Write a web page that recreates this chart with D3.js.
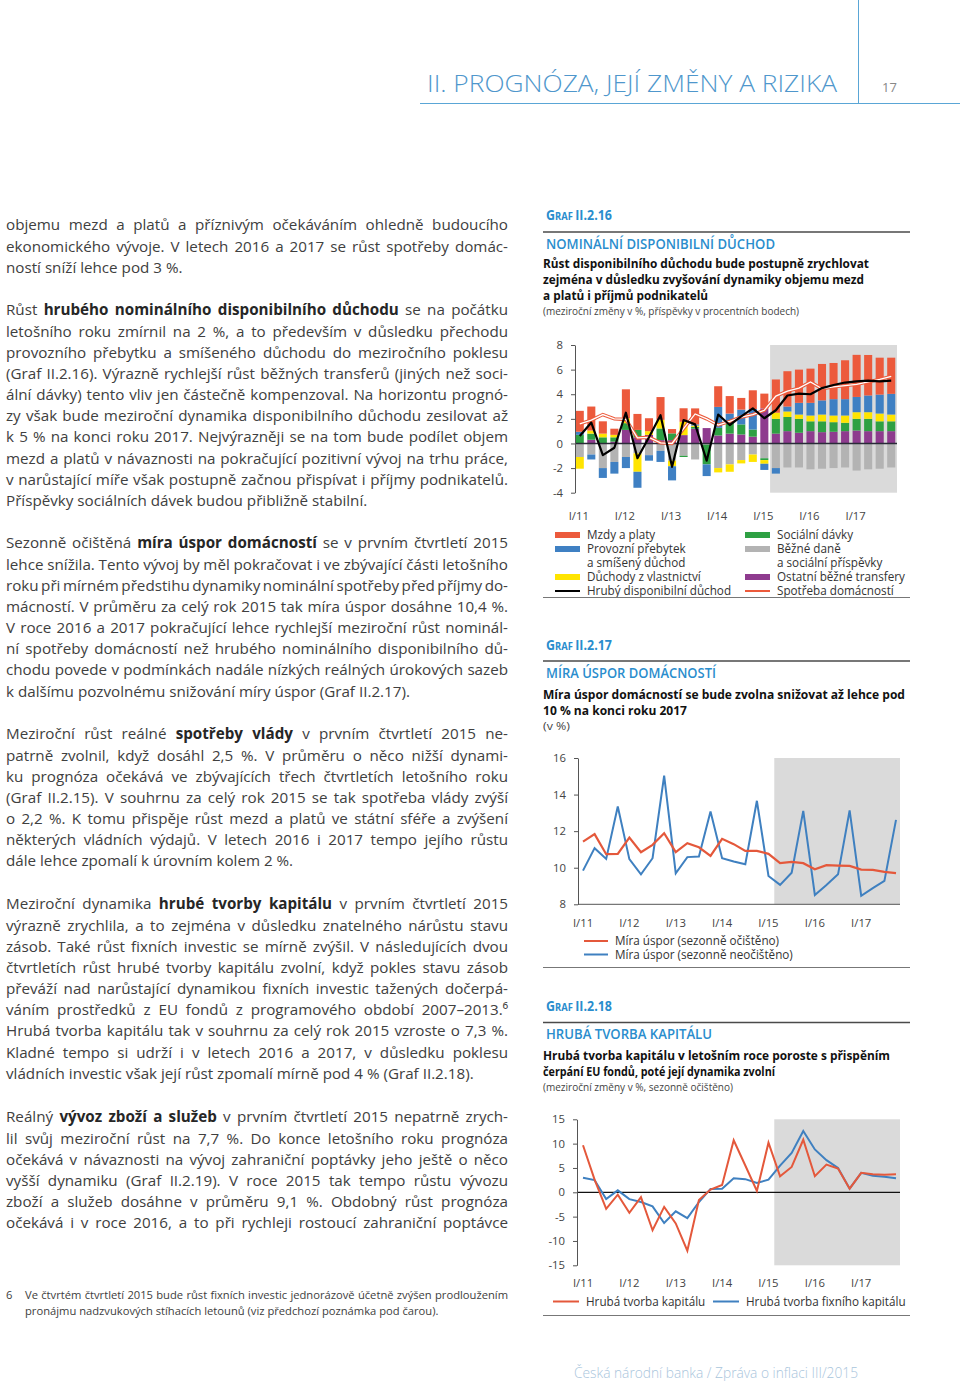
<!DOCTYPE html>
<html><head><meta charset="utf-8">
<script src="https://cdn.jsdelivr.net/npm/d3@7"></script>
<style>body{margin:0;background:#fff} svg{display:block}</style>
</head><body><svg id="page" width="960" height="1382"></svg>
<script>
// ---------- DATA ----------
const quarters = ["I/11","II/11","III/11","IV/11","I/12","II/12","III/12","IV/12","I/13","II/13","III/13","IV/13","I/14","II/14","III/14","IV/14","I/15","II/15","III/15","IV/15","I/16","II/16","III/16","IV/16","I/17","II/17","III/17","IV/17"];
const yearTicks = ["I/11","I/12","I/13","I/14","I/15","I/16","I/17"];
// Graf II.2.16 contributions (p.b.)
const wages    = [1.7,1.95,1.0,0.5,2.35,1.3,1.05,1.85,0.35,1.1,1.3,0,1.68,1.42,0.95,1.52,1.2,2.7,2.87,2.7,2.78,2.96,2.94,3.16,3.42,3.29,3.0,2.94];
const surplus  = [0.25,-0.4,-0.8,-0.95,-0.9,-1.3,-0.45,-0.9,-1.15,0,0.1,-0.95,1.7,0.75,1.2,1.67,-0.5,-0.45,0.4,0.95,1.03,1.15,1.33,1.33,1.24,1.36,1.54,1.68];
const property = [-0.95,0.25,0.3,0.2,0.4,-1.5,0.3,0.7,-0.45,1.08,0.1,0,-0.35,-0.6,-0.27,-0.6,-0.3,0.5,0.45,0.35,0.47,0.55,0.54,0.59,0.54,0.54,0.63,0.55];
const social   = [0.7,0.5,0.5,0.35,0.55,0.6,0,0.95,0.55,-0.1,0.15,-1.6,0.62,0.88,0.82,0.58,-0.15,1.2,1.15,1.13,0.8,0.88,0.78,0.68,0.95,1.0,0.8,0.8];
const taxes    = [-1.1,-0.9,-2.0,-1.5,-1.1,-0.8,-0.95,-0.6,-1.4,-1.0,-1.3,-0.1,-2.0,-1.7,-1.35,-0.9,-1.2,-2.0,-1.95,-1.95,-2.1,-2.05,-2.0,-1.95,-2.2,-2.1,-2.05,-1.95];
const other    = [0,0.3,0,0.15,1.1,0.5,0.7,0.27,0.27,0.68,1.2,1.25,0.65,0.8,0.73,0.55,2.85,0.8,1.0,0.87,1.0,0.92,0.95,1.0,1.05,1.0,1.0,1.0];
const grossDisposable = [0.6,1.7,-0.95,-0.35,2.5,-1.2,0.5,2.3,-1.9,1.9,1.55,-1.4,2.35,1.5,2.2,2.85,2.05,2.7,3.9,4.05,4.0,4.5,4.75,4.95,5.05,5.1,5.05,5.1];
const consumption = [1.6,1.9,2.35,2.0,1.95,0.45,0.5,0.05,0.0,1.2,2.4,2.0,1.5,1.8,2.15,2.35,2.7,3.85,4.25,4.5,5.0,4.45,4.6,4.7,4.8,5.0,5.2,5.45];
// Graf II.2.17 saving rate (%)
const savingSA  = [11.43,11.84,10.74,10.76,11.65,10.85,11.25,11.89,10.85,11.34,11.12,10.65,11.58,11.29,10.92,10.92,10.76,10.25,10.32,10.25,9.92,10.14,10.12,10.1,9.9,9.88,9.77,9.7];
const savingNSA = [9.84,11.07,10.48,13.35,10.47,9.64,10.52,15.03,9.7,10.58,10.61,13.08,10.52,10.34,10.19,13.66,9.55,9.06,9.73,13.11,8.51,9.06,9.64,13.13,8.46,8.88,9.28,12.62];
// Graf II.2.18 capital formation (%)
const gcf  = [9.66,2.6,-3.4,-0.5,-4.2,-1.0,-7.8,-3.0,-6.4,-12.0,-1.6,0.55,1.5,10.7,5.5,0.27,10.2,3.3,5.2,10.8,3.3,5.7,4.9,0.75,4.0,3.7,3.6,3.7];
const gfcf = [3.0,2.5,-1.4,0.4,-1.4,-2.0,-2.9,-6.3,-3.9,-5.3,-2.0,0.7,0.75,2.9,2.7,1.9,2.6,5.5,8.1,12.6,8.8,6.6,5.0,0.75,4.0,3.4,3.2,2.9];
const ticks16 = [-4,-2,0,2,4,6,8];
const ticks17 = [8,10,12,14,16];
const ticks18 = [-15,-10,-5,0,5,10,15];

// ---------- PAGE ----------
const svg = d3.select("#page");
const F = "'Open Sans','Noto Sans',sans-serif";
const BLUE_H = "#2a8dcd";
svg.append("rect").attr("width",960).attr("height",1382).attr("fill","#fff");

// header
svg.append("line").attr("x1",858.5).attr("x2",858.5).attr("y1",0).attr("y2",104).attr("stroke","#5aa6d6").attr("stroke-width",1);
svg.append("line").attr("x1",420).attr("x2",960).attr("y1",103.5).attr("y2",103.5).attr("stroke","#5aa6d6").attr("stroke-width",1);
svg.append("text").attr("x",427).attr("y",92).attr("font-family",F).attr("font-size",23).attr("font-weight",300)
  .attr("fill","#4f97cc").attr("textLength",410).attr("lengthAdjust","spacingAndGlyphs").text("II.  PROGNÓZA, JEJÍ ZMĚNY A RIZIKA");
svg.append("text").attr("x",882).attr("y",92).attr("font-family",F).attr("font-size",13).attr("fill","#888").text("17");

// justified text helper
function textLine(g, str, x, yc, o) {
  const t = g.append("text").attr("x",x).attr("y",yc + o.size*0.36).attr("font-family",F)
    .attr("font-size",o.size).attr("fill",o.color);
  str.split("**").forEach((seg,i)=>{ if(!seg) return; const ts=t.append("tspan").text(seg);
    if(i%2) ts.attr("font-weight",700).attr("fill",o.bold||o.color); });
  if (o.justify) {
    const nat = t.node().getComputedTextLength();
    const n = (str.replace(/\*\*/g,"").trim().match(/ /g)||[]).length;
    if (n>0) t.style("word-spacing", ((o.width-nat)/n)+"px");
  }
  return t;
}
function paragraph(lines, yc0, lastJust) {
  const lh = 21.17;
  lines.forEach((s,i)=>{
    const just = i < lines.length-1 || lastJust;
    textLine(svg, s, 6, yc0 + i*lh, {size:15.2, color:"#404040", bold:"#262626", justify:just, width:502});
  });
}
paragraph([
 "objemu mezd a platů a příznivým očekáváním ohledně budoucího",
 "ekonomického vývoje. V letech 2016 a 2017 se růst spotřeby domác-",
 "ností sníží lehce pod 3 %."], 225, false);
paragraph([
 "Růst **hrubého nominálního disponibilního důchodu** se na počátku",
 "letošního roku zmírnil na 2 %, a to především v důsledku přechodu",
 "provozního přebytku a smíšeného důchodu do meziročního poklesu",
 "(Graf II.2.16). Výrazně rychlejší růst běžných transferů (jiných než soci-",
 "ální dávky) tento vliv jen částečně kompenzoval. Na horizontu prognó-",
 "zy však bude meziroční dynamika disponibilního důchodu zesilovat až",
 "k 5 % na konci roku 2017. Nejvýrazněji se na tom bude podílet objem",
 "mezd a platů v návaznosti na pokračující pozitivní vývoj na trhu práce,",
 "v narůstající míře však postupně začnou přispívat i příjmy podnikatelů.",
 "Příspěvky sociálních dávek budou přibližně stabilní."], 310, false);
paragraph([
 "Sezonně očištěná **míra úspor domácností** se v prvním čtvrtletí 2015",
 "lehce snížila. Tento vývoj by měl pokračovat i ve zbývající části letošního",
 "roku při mírném předstihu dynamiky nominální spotřeby před příjmy do-",
 "mácností. V průměru za celý rok 2015 tak míra úspor dosáhne 10,4 %.",
 "V roce 2016 a 2017 pokračující lehce rychlejší meziroční růst nominál-",
 "ní spotřeby domácností než hrubého nominálního disponibilního dů-",
 "chodu povede v podmínkách nadále nízkých reálných úrokových sazeb",
 "k dalšímu pozvolnému snižování míry úspor (Graf II.2.17)."], 543, false);
paragraph([
 "Meziroční růst reálné **spotřeby vlády** v prvním čtvrtletí 2015 ne-",
 "patrně zvolnil, když dosáhl 2,5 %. V průměru o něco nižší dynami-",
 "ku prognóza očekává ve zbývajících třech čtvrtletích letošního roku",
 "(Graf II.2.15). V souhrnu za celý rok 2015 se tak spotřeba vlády zvýší",
 "o 2,2 %. K tomu přispěje růst mezd a platů ve státní sféře a zvýšení",
 "některých vládních výdajů. V letech 2016 i 2017 tempo jejího růstu",
 "dále lehce zpomalí k úrovním kolem 2 %."], 734, false);
paragraph([
 "Meziroční dynamika **hrubé tvorby kapitálu** v prvním čtvrtletí 2015",
 "výrazně zrychlila, a to zejména v důsledku znatelného nárůstu stavu",
 "zásob. Také růst fixních investic se mírně zvýšil. V následujících dvou",
 "čtvrtletích růst hrubé tvorby kapitálu zvolní, když pokles stavu zásob",
 "převáží nad narůstající dynamikou fixních investic tažených dočerpá-",
 "váním prostředků z EU fondů z programového období 2007–2013.⁶",
 "Hrubá tvorba kapitálu tak v souhrnu za celý rok 2015 vzroste o 7,3 %.",
 "Kladné tempo si udrží i v letech 2016 a 2017, v důsledku poklesu",
 "vládních investic však její růst zpomalí mírně pod 4 % (Graf II.2.18)."], 904, false);
paragraph([
 "Reálný **vývoz zboží a služeb** v prvním čtvrtletí 2015 nepatrně zrych-",
 "lil svůj meziroční růst na 7,7 %. Do konce letošního roku prognóza",
 "očekává v návaznosti na vývoj zahraniční poptávky jeho ještě o něco",
 "vyšší dynamiku (Graf II.2.19). V roce 2015 tak tempo růstu vývozu",
 "zboží a služeb dosáhne v průměru 9,1 %. Obdobný růst prognóza",
 "očekává i v roce 2016, a to při rychleji rostoucí zahraniční poptávce"], 1117, true);

// footnote
textLine(svg, "6", 6, 1295, {size:11.2, color:"#404040"});
textLine(svg, "Ve čtvrtém čtvrtletí 2015 bude růst fixních investic jednorázově účetně zvýšen prodloužením", 25, 1295, {size:11.2, color:"#404040", justify:true, width:483});
textLine(svg, "pronájmu nadzvukových stíhacích letounů (viz předchozí poznámka pod čarou).", 25, 1311, {size:11.2, color:"#404040"});
// footer
svg.append("text").attr("x",574).attr("y",1378).attr("font-family",F).attr("font-size",14).attr("font-weight",300)
  .attr("fill","#a9c5dc").attr("textLength",284).attr("lengthAdjust","spacingAndGlyphs").text("Česká národní banka / Zpráva o inflaci III/2015");

// ---------- chart headings ----------
function fitText(x, yc, str, size, weight, fill, endX) {
  return svg.append("text").attr("x",x).attr("y",yc + size*0.36).attr("font-family",F).attr("font-size",size)
    .attr("font-weight",weight).attr("fill",fill).attr("textLength",endX-x).attr("lengthAdjust","spacingAndGlyphs").text(str);
}
function heading(o) {
  const t = svg.append("text").attr("x",546).attr("y",o.graf+5).attr("font-family",F).attr("font-weight",700)
    .attr("fill",BLUE_H).attr("textLength",66).attr("lengthAdjust","spacingAndGlyphs");
  t.append("tspan").attr("font-size",14).text("G");
  t.append("tspan").attr("font-size",10.5).text("RAF ");
  t.append("tspan").attr("font-size",14).text(o.num);
  svg.append("line").attr("x1",543).attr("x2",910).attr("y1",o.rule).attr("y2",o.rule).attr("stroke","#4a4a4a").attr("stroke-width",1.3);
  fitText(546, o.titleY, o.title, 15, 600, BLUE_H, o.titleEnd);
  o.subs.forEach((s,i)=> fitText(543, o.subY[i], s, 12.5, 700, "#111", o.subEnd[i]));
  fitText(543, o.noteY, o.note, 10.3, 400, "#444", o.noteEnd);
}
heading({graf:215, num:"II.2.16", rule:232, title:"NOMINÁLNÍ DISPONIBILNÍ DŮCHOD", titleY:243.5, titleEnd:775,
  subs:["Růst disponibilního důchodu bude postupně zrychlovat","zejména v důsledku zvyšování dynamiky objemu mezd","a platů i příjmů podnikatelů"],
  subY:[263.5,279.5,295.5], subEnd:[869,864,708], note:"(meziroční změny v %, příspěvky v procentních bodech)", noteY:311, noteEnd:799});
heading({graf:644.5, num:"II.2.17", rule:661, title:"MÍRA ÚSPOR DOMÁCNOSTÍ", titleY:673, titleEnd:716,
  subs:["Míra úspor domácností se bude zvolna snižovat až lehce pod","10 % na konci roku 2017"],
  subY:[694,710.5], subEnd:[905,687], note:"(v %)", noteY:726, noteEnd:570});
heading({graf:1006, num:"II.2.18", rule:1022.5, title:"HRUBÁ TVORBA KAPITÁLU", titleY:1034, titleEnd:712,
  subs:["Hrubá tvorba kapitálu v letošním roce poroste s přispěním","čerpání EU fondů, poté její dynamika zvolní"],
  subY:[1055,1071], subEnd:[890,775], note:"(meziroční změny v %, sezonně očištěno)", noteY:1087, noteEnd:733});

function styleAxis(g) {
  g.select(".domain").attr("stroke","#555");
  g.selectAll(".tick line").attr("stroke","#555");
  g.selectAll(".tick text").attr("font-family",F).attr("font-size",11.3).attr("fill","#444");
}
const SHADE = "#dadada";

// ---------- Graf II.2.16 ----------
{
  const x = d3.scaleBand().domain(d3.range(28)).range([574,897]).paddingInner(0.3).paddingOuter(0.15);
  const y = d3.scaleLinear().domain([-4,8]).range([492.7,345]);
  const sx = x(17) - x.step()*0.15;
  svg.append("rect").attr("x",sx).attr("y",y(8)).attr("width",897-sx).attr("height",y(-4)-y(8)).attr("fill",SHADE);
  const keys = ["taxes","other","social","property","surplus","wages"];
  const colors = {taxes:"#b3b3b3", other:"#8e3b8e", social:"#2ea043", property:"#ffe400", surplus:"#3f80c3", wages:"#ec5a3c"};
  const src = {taxes, other, social, property, surplus, wages};
  const rows = quarters.map((q,i)=>{ const r={i}; keys.forEach(k=>r[k]=src[k][i]); return r; });
  const series = d3.stack().keys(keys).offset(d3.stackOffsetDiverging)(rows);
  series.forEach(s=>{
    svg.append("g").attr("fill",colors[s.key]).selectAll("rect").data(s).join("rect")
      .attr("x",(d,i)=>x(i)).attr("width",x.bandwidth())
      .attr("y",d=>y(Math.max(d[0],d[1]))).attr("height",d=>Math.abs(y(d[0])-y(d[1])));
  });
  svg.append("line").attr("x1",575).attr("x2",897).attr("y1",y(0)).attr("y2",y(0)).attr("stroke","#2a2a38").attr("stroke-width",1.6);
  const line = d3.line().x((d,i)=>x(i)+x.bandwidth()/2).y(d=>y(d));
  svg.append("path").attr("d",line(consumption)).attr("fill","none").attr("stroke","#ec5a3c").attr("stroke-width",3.4);
  svg.append("path").attr("d",line(consumption)).attr("fill","none").attr("stroke","#fff").attr("stroke-width",1.3);
  svg.append("path").attr("d",line(grossDisposable)).attr("fill","none").attr("stroke","#000").attr("stroke-width",2.2).attr("stroke-linejoin","round");
  const ga = svg.append("g").attr("transform","translate(575,0)")
    .call(d3.axisLeft(y).tickValues(ticks16).tickSize(4).tickSizeOuter(0).tickPadding(8).tickFormat(d=>String(d)));
  styleAxis(ga);
  svg.append("g").selectAll("text").data(yearTicks).join("text")
    .attr("x",(d)=>x(quarters.indexOf(d))+x.bandwidth()/2-1).attr("y",520).attr("text-anchor","middle")
    .attr("font-family",F).attr("font-size",11.3).attr("fill","#444").text(d=>d);
  // legend
  const lg = svg.append("g").attr("font-family",F).attr("font-size",11.7).attr("fill","#333");
  const L = [
    {x:555, y:535, c:colors.wages, t:"Mzdy a platy"},
    {x:555, y:549, c:colors.surplus, t:"Provozní přebytek"},
    {x:555, y:563, t:"a smíšený důchod"},
    {x:555, y:577, c:colors.property, t:"Důchody z vlastnictví"},
    {x:555, y:591, line:"#000", t:"Hrubý disponibilní důchod"},
    {x:745, y:535, c:colors.social, t:"Sociální dávky"},
    {x:745, y:549, c:colors.taxes, t:"Běžné daně"},
    {x:745, y:563, t:"a sociální příspěvky"},
    {x:745, y:577, c:colors.other, t:"Ostatní běžné transfery"},
    {x:745, y:591, line:"#ec5a3c", t:"Spotřeba domácností"}];
  L.forEach(d=>{
    if (d.c) lg.append("rect").attr("x",d.x).attr("y",d.y-3).attr("width",25).attr("height",6).attr("fill",d.c);
    if (d.line) lg.append("line").attr("x1",d.x).attr("x2",d.x+25).attr("y1",d.y).attr("y2",d.y).attr("stroke",d.line).attr("stroke-width",2);
    lg.append("text").attr("x",d.x+32).attr("y",d.y+4).text(d.t);
  });
  svg.append("line").attr("x1",543).attr("x2",910).attr("y1",597.5).attr("y2",597.5).attr("stroke","#777").attr("stroke-width",1);
}

// ---------- Graf II.2.17 ----------
{
  const x = d3.scalePoint().domain(d3.range(28)).range([583,896]);
  const y = d3.scaleLinear().domain([8,16]).range([904.3,758]);
  const sx = (x(16)+x(17))/2;
  svg.append("rect").attr("x",sx).attr("y",y(16)).attr("width",900-sx).attr("height",y(8)-y(16)).attr("fill",SHADE);
  svg.append("line").attr("x1",578).attr("x2",900).attr("y1",y(8)).attr("y2",y(8)).attr("stroke","#555");
  const line = d3.line().x((d,i)=>x(i)).y(d=>y(d));
  svg.append("path").attr("d",line(savingNSA)).attr("fill","none").attr("stroke","#3f80c0").attr("stroke-width",2);
  svg.append("path").attr("d",line(savingSA)).attr("fill","none").attr("stroke","#e4583b").attr("stroke-width",2.2);
  const ga = svg.append("g").attr("transform","translate(578,0)")
    .call(d3.axisLeft(y).tickValues(ticks17).tickSize(4).tickSizeOuter(0).tickPadding(8).tickFormat(d=>String(d)));
  styleAxis(ga);
  svg.append("g").selectAll("text").data(yearTicks).join("text")
    .attr("x",d=>x(quarters.indexOf(d))).attr("y",926.5).attr("text-anchor","middle")
    .attr("font-family",F).attr("font-size",11.3).attr("fill","#444").text(d=>d);
  const lg = svg.append("g").attr("font-family",F).attr("font-size",11.7).attr("fill","#333");
  [{y:941,c:"#e4583b",t:"Míra úspor (sezonně očištěno)"},{y:954.5,c:"#3f80c0",t:"Míra úspor (sezonně neočištěno)"}].forEach(d=>{
    lg.append("line").attr("x1",584).attr("x2",608).attr("y1",d.y).attr("y2",d.y).attr("stroke",d.c).attr("stroke-width",2);
    lg.append("text").attr("x",615).attr("y",d.y+4).text(d.t);
  });
  svg.append("line").attr("x1",543).attr("x2",910).attr("y1",967.5).attr("y2",967.5).attr("stroke","#777");
}

// ---------- Graf II.2.18 ----------
{
  const x = d3.scalePoint().domain(d3.range(28)).range([583,896]);
  const y = d3.scaleLinear().domain([-15,15]).range([1265.3,1119.3]);
  const sx = (x(16)+x(17))/2;
  svg.append("rect").attr("x",sx).attr("y",y(15)).attr("width",900-sx).attr("height",y(-15)-y(15)).attr("fill",SHADE);
  svg.append("line").attr("x1",577).attr("x2",900).attr("y1",y(0)).attr("y2",y(0)).attr("stroke","#111").attr("stroke-width",1.3);
  const line = d3.line().x((d,i)=>x(i)).y(d=>y(d));
  svg.append("path").attr("d",line(gfcf)).attr("fill","none").attr("stroke","#3f80c0").attr("stroke-width",2);
  svg.append("path").attr("d",line(gcf)).attr("fill","none").attr("stroke","#e4583b").attr("stroke-width",2);
  const ga = svg.append("g").attr("transform","translate(577,0)")
    .call(d3.axisLeft(y).tickValues(ticks18).tickSize(4).tickSizeOuter(0).tickPadding(8).tickFormat(d=>String(d)));
  styleAxis(ga);
  svg.append("g").selectAll("text").data(yearTicks).join("text")
    .attr("x",d=>x(quarters.indexOf(d))).attr("y",1286.5).attr("text-anchor","middle")
    .attr("font-family",F).attr("font-size",11.3).attr("fill","#444").text(d=>d);
  const lg = svg.append("g").attr("font-family",F).attr("font-size",11.7).attr("fill","#333");
  [{x:553,c:"#e4583b",t:"Hrubá tvorba kapitálu"},{x:713,c:"#3f80c0",t:"Hrubá tvorba fixního kapitálu"}].forEach(d=>{
    lg.append("line").attr("x1",d.x).attr("x2",d.x+26).attr("y1",1301.5).attr("y2",1301.5).attr("stroke",d.c).attr("stroke-width",2);
    lg.append("text").attr("x",d.x+33).attr("y",1305.5).text(d.t);
  });
  svg.append("line").attr("x1",543).attr("x2",910).attr("y1",1315.5).attr("y2",1315.5).attr("stroke","#777");
}
</script></body></html>
